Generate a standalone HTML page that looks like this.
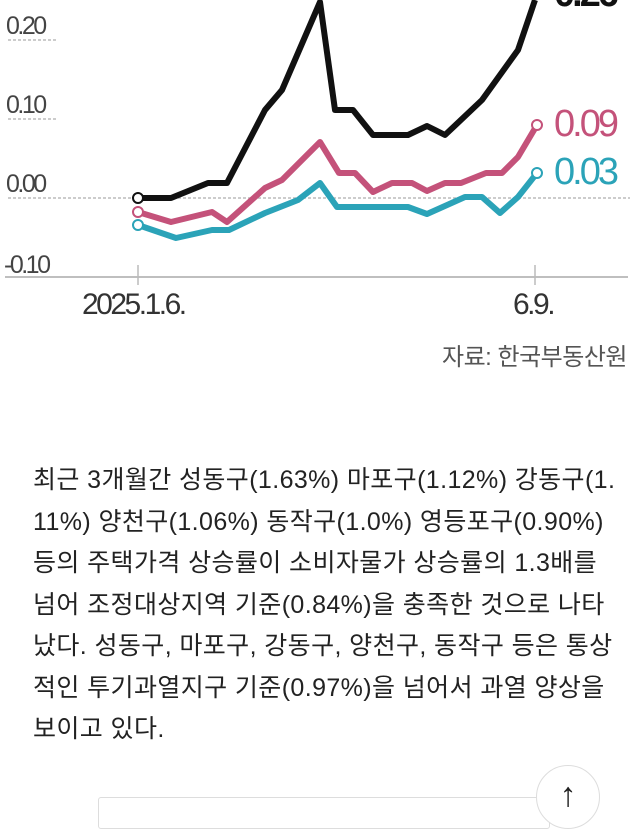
<!DOCTYPE html>
<html><head><meta charset="utf-8"><style>
body{margin:0;width:640px;height:811px;background:#fff;overflow:hidden;position:relative;font-family:"Liberation Sans","Noto Sans CJK KR",sans-serif}
.p{position:absolute;left:33px;top:460px;width:610px;font-size:25px;line-height:41.5px;color:#222;letter-spacing:0.4px;white-space:nowrap}
</style></head><body>
<svg width="640" height="440" style="position:absolute;left:0;top:0" font-family="Liberation Sans, Noto Sans CJK KR, sans-serif">
<g fill="#444" font-size="25" letter-spacing="-2.5">
<text x="6" y="34">0.20</text><text x="6" y="113">0.10</text><text x="6" y="192">0.00</text><text x="4" y="273">-0.10</text>
</g>
<g stroke="#bbb" stroke-width="1.5" stroke-dasharray="3 2"><line x1="8" y1="40" x2="56" y2="40"/><line x1="8" y1="119" x2="56" y2="119"/><line x1="8" y1="198" x2="630" y2="198"/></g>
<line x1="5" y1="277" x2="628" y2="277" stroke="#aaa" stroke-width="1.5"/>
<line x1="138" y1="265" x2="138" y2="285" stroke="#bbb" stroke-width="1.5"/>
<line x1="535" y1="265" x2="535" y2="285" stroke="#bbb" stroke-width="1.5"/>
<g fill="#333" font-size="30" letter-spacing="-2.5"><text x="82" y="314">2025.1.6.</text><text x="513" y="314">6.9.</text></g>
<text x="627" y="365" text-anchor="end" fill="#555" font-size="24" letter-spacing="-0.5">자료: 한국부동산원</text>
<g fill="none" stroke-linejoin="round" stroke-width="6">
<polyline stroke="#2ba3b8" points="138,225 176,238 212,230 229,230 265,213 298,200 320,183 337,207 408,207 427,214 465,197 482,197 500,213 518,197 537,173"/>
<polyline stroke="#c4527a" points="138,212 171,222 212,212 227,222 265,188 282,180 320,142 339,173 355,173 373,192 392,183 412,183 427,191 445,183 461,183 486,173 502,173 518,157 537,125"/>
<polyline stroke="#111" points="138,198 171,198 208,183 227,183 265,110 282,90 320,2 335,110 353,110 373,135 408,135 427,126 445,135 482,100 518,50 535,0"/>
</g>
<circle cx="138" cy="198" r="5" fill="#fff" stroke="#111" stroke-width="2"/>
<circle cx="138" cy="212" r="5" fill="#fff" stroke="#c4527a" stroke-width="2"/>
<circle cx="138" cy="225" r="5" fill="#fff" stroke="#2ba3b8" stroke-width="2"/>
<circle cx="537" cy="125" r="5" fill="#fff" stroke="#c4527a" stroke-width="2"/>
<circle cx="537" cy="173" r="5" fill="#fff" stroke="#2ba3b8" stroke-width="2"/>
<g font-size="38" letter-spacing="-3"><text x="554" y="136" fill="#c4527a">0.09</text><text x="554" y="184" fill="#2ba3b8">0.03</text><text x="554" y="6" fill="#111" font-weight="bold">0.26</text></g>
</svg>
<div class="p">최근 3개월간 성동구(1.63%) 마포구(1.12%) 강동구(1.<br>11%) 양천구(1.06%) 동작구(1.0%) 영등포구(0.90%)<br>등의 주택가격 상승률이 소비자물가 상승률의 1.3배를<br>넘어 조정대상지역 기준(0.84%)을 충족한 것으로 나타<br>났다. 성동구, 마포구, 강동구, 양천구, 동작구 등은 통상<br>적인 투기과열지구 기준(0.97%)을 넘어서 과열 양상을<br>보이고 있다.</div>
<div style="position:absolute;left:98px;top:797px;width:450px;height:30px;border:1.5px solid #ddd;border-radius:3px"></div>
<div style="position:absolute;left:536px;top:765px;width:62px;height:62px;border:1.5px solid #ddd;border-radius:50%;background:#fff;text-align:center;font-size:34px;line-height:58px;color:#222">↑</div>
</body></html>
